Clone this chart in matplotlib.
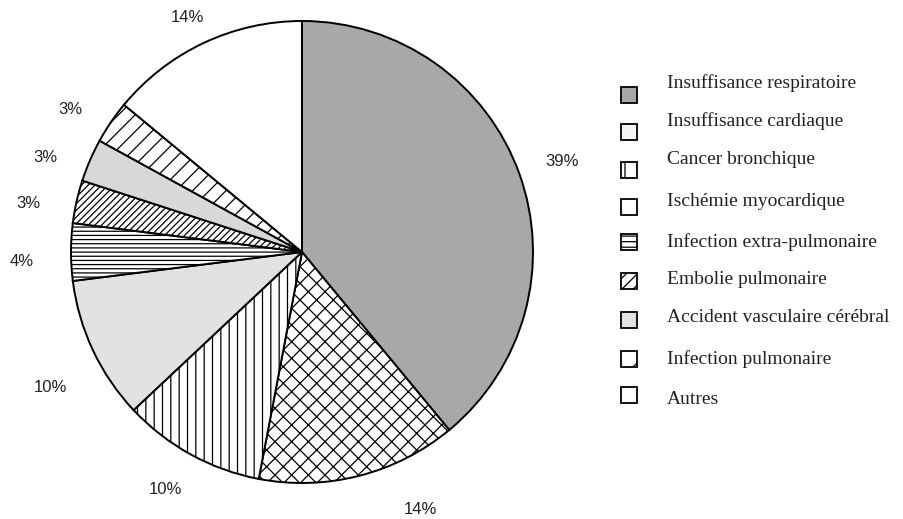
import matplotlib
matplotlib.use("Agg")
import matplotlib.pyplot as plt
from matplotlib.patches import Rectangle

categories = ["Insuffisance respiratoire", "Insuffisance cardiaque", "Cancer bronchique",
              "Ischémie myocardique", "Infection extra-pulmonaire", "Embolie pulmonaire",
              "Accident vasculaire cérébral", "Infection pulmonaire", "Autres"]
values = [39, 14, 10, 10, 4, 3, 3, 3, 14]
pct_labels = ["39%", "14%", "10%", "10%", "4%", "3%", "3%", "3%", "14%"]

# styles
faces = ["#a8a8a8", "white", "white", "#e2e2e2", "white", "white", "#d8d8d8", "white", "white"]
hatches = [None, "xx", "||", None, "----", "/////", None, "//", None]
leg_faces = ["#a8a8a8", "#f4f4f4", "white", "white", "white", "white", "#e2e2e2", "white", "white"]
leg_hatches = [None, None, "|", None, "---", "///", None, "/", None]
# label centres in pixels (layout)
label_px = [(562, 162), (420, 509), (165, 490), (50, 388), (22, 262),
            (28, 203), (45, 158), (70, 109), (187, 17)]

plt.rcParams['hatch.linewidth'] = 0.9
W, H = 904, 519
fig = plt.figure(figsize=(W/100, H/100), dpi=100)
cx, cy, R = 302, 252, 231
ax = fig.add_axes([(cx-R)/W, (H-cy-R)/H, 2*R/W, 2*R/H])
wedges, _ = ax.pie(values, startangle=90, counterclock=False, radius=1,
                   wedgeprops=dict(edgecolor="black", linewidth=1.4))
for w, fc, h in zip(wedges, faces, hatches):
    w.set_facecolor(fc)
    if h:
        w.set_hatch(h)
ax.set_xlim(-1, 1)
ax.set_ylim(-1, 1)
ax.set_aspect("equal")
ax.axis("off")
for (px, py), t in zip(label_px, pct_labels):
    fig.text(px/W, (H-py)/H, t, ha="center", va="center", fontsize=12,
             family="Liberation Sans", color="#222222")

# legend
text_y = [83, 121, 160, 202, 242, 280, 318, 359, 400]
mark_y = [95, 132, 170, 207, 242, 281, 320, 359, 395]
for i, name in enumerate(categories):
    ty = text_y[i]
    my = mark_y[i]
    fig.patches.append(Rectangle((621/W, (H-my-8)/H), 16/W, 16/H, transform=fig.transFigure,
                                 facecolor=leg_faces[i], edgecolor="black", linewidth=1.3,
                                 hatch=leg_hatches[i]))
    fig.text(667/W, (H-ty)/H, name, ha="left", va="center", fontsize=14,
             family="Liberation Serif", color="#222222")

fig.savefig("out.png", dpi=100)
